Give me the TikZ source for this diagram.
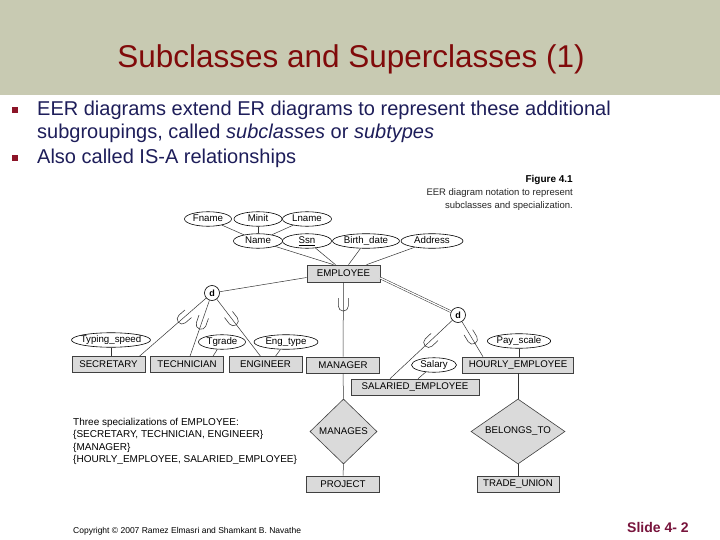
\documentclass[tikz,border=0pt]{standalone}
\usepackage{fontspec}
\setmainfont{Liberation Sans}
\usetikzlibrary{shapes.geometric,decorations.markings,calc}
\definecolor{hdr}{RGB}{200,202,178}
\definecolor{ttl}{RGB}{128,10,10}
\definecolor{txt}{RGB}{30,30,90}
\definecolor{bul}{RGB}{140,20,40}
\definecolor{entfill}{RGB}{218,218,218}
\definecolor{slidec}{RGB}{120,20,60}
\begin{document}
\begin{tikzpicture}[x=1pt,y=-1pt,
 lbl/.style={font=\fontsize{9.7}{10}\selectfont},
 ent/.style={rectangle,draw=black!75,line width=0.6pt,fill=entfill,minimum width=73pt,minimum height=16pt,inner sep=0pt,lbl},
 attr/.style={ellipse,draw=black,line width=0.6pt,fill=white,minimum height=14.5pt,inner sep=0pt,text height=7pt,text depth=2pt,lbl},
 rel/.style={diamond,draw=black!75,line width=0.6pt,fill=entfill,inner sep=0pt,aspect=1.45,lbl},
 dnode/.style={circle,draw=black,line width=0.6pt,fill=white,minimum size=15pt,inner sep=0pt,font=\bfseries\fontsize{9}{10}\selectfont},
 conn/.style={draw=black!80,line width=0.5pt},
 subs/.style={postaction={decorate},decoration={markings,mark=at position #1 with {\draw[black!80,line width=0.55pt] (-8pt,5pt) -- (0pt,5pt) arc[start angle=90,end angle=-90,radius=5pt] -- (-8pt,-5pt);}}},
 btext/.style={anchor=base west,inner sep=0pt,text=txt,font=\fontsize{20}{24}\selectfont},
 small/.style={anchor=base west,inner sep=0pt,font=\fontsize{10}{12}\selectfont},
]
\useasboundingbox (0,0) rectangle (720,540);
\fill[white] (0,0) rectangle (720,540);
\fill[hdr] (0,0) rectangle (720,95);
\node[anchor=base,inner sep=0pt,text=ttl,font=\fontsize{31.5}{36}\selectfont] (title) at (351,68) {Subclasses and Superclasses (1)};

% bullets
\node[fill=bul,minimum size=6pt,inner sep=0pt] (b1) at (15,110) {};
\node[fill=bul,minimum size=6pt,inner sep=0pt] (b2) at (15,158) {};
\node[btext] (t1) at (37,116) {EER diagrams extend ER diagrams to represent these additional};
\node[btext] (t2) at (37,139) {subgroupings, called \textit{subclasses} or \textit{subtypes}};
\node[btext] (t3) at (37,164) {Also called IS-A relationships};

% caption
\node[anchor=base east,inner sep=0pt,font=\bfseries\fontsize{10}{12}\selectfont] (fig) at (573,183) {Figure 4.1};
\node[anchor=base east,inner sep=0pt,text=black!85,font=\fontsize{9.5}{11}\selectfont] (cap1) at (573,195.5) {EER diagram notation to represent};
\node[anchor=base east,inner sep=0pt,text=black!85,font=\fontsize{9.5}{11}\selectfont] (cap2) at (573,208) {subclasses and specialization.};

% attributes
\node[attr,minimum width=47pt] (fname) at (208,219) {Fname};
\node[attr,minimum width=48pt] (minit) at (258,219) {Minit};
\node[attr,minimum width=49pt] (lname) at (307,219) {Lname};
\node[attr,minimum width=49pt] (name) at (258,241) {Name};
\node[attr,minimum width=49pt] (ssn) at (307,241) {\underline{Ssn}};
\node[attr,minimum width=67pt] (bdate) at (366,241) {Birth\_date};
\node[attr,minimum width=62pt] (addr) at (432,241) {Address};

\node[ent,minimum height=17pt] (emp) at (343.5,273.5) {EMPLOYEE};

\node[dnode] (d1) at (212,293) {d};
\node[dnode] (d2) at (458,315) {d};

\node[attr,minimum width=79pt,inner xsep=-2.5pt] (typ) at (111,340) {Typing\_speed};
\node[attr,minimum width=47pt] (tgrade) at (222,342) {Tgrade};
\node[attr,minimum width=64pt] (engt) at (286,342) {Eng\_type};
\node[attr,minimum width=61pt] (pay) at (519,341) {Pay\_scale};
\node[attr,minimum width=45pt] (salary) at (434,365) {Salary};

\node[ent] (sec) at (108.5,364.5) {SECRETARY};
\node[ent] (tech) at (187,364.5) {TECHNICIAN};
\node[ent] (eng) at (265.5,364.5) {ENGINEER};
\node[ent] (mgr) at (343,365) {MANAGER};
\node[ent,minimum width=111pt] (hourly) at (518,365) {HOURLY\_EMPLOYEE};
\node[ent,minimum width=128pt] (sal) at (415,387) {SALARIED\_EMPLOYEE};

\node[rel,minimum width=67pt,minimum height=65pt] (manages) at (343.5,431.5) {MANAGES};
\node[rel,minimum width=94pt,minimum height=65pt] (belongs) at (518,431.5) {BELONGS\_TO};
\node[ent] (project) at (343,484) {PROJECT};
\node[ent,minimum width=82pt] (trade) at (518,484) {TRADE\_UNION};

% connectors: name composite
\draw[conn] (fname) -- (name);
\draw[conn] (minit) -- (name);
\draw[conn] (lname) -- (name);
\draw[conn] (name) -- ([xshift=-10pt]emp.north);
\draw[conn] (ssn) -- ([xshift=-8pt]emp.north);
\draw[conn] (bdate) -- ([xshift=5pt]emp.north);
\draw[conn] (addr) -- ([xshift=23pt]emp.north);

% specializations
\draw[conn] ([yshift=-4pt]emp.west) -- (d1);
\draw[conn,double,double distance=1.3pt] ([yshift=-4.5pt]emp.east) -- (d2);
\draw[conn,subs=0.32] (emp.south) -- (mgr.north);
\draw[conn,subs=0.36] (d1) -- ([xshift=31pt]sec.north);
\draw[conn,subs=0.43] (d1) -- ([xshift=3pt]tech.north);
\draw[conn,subs=0.38] (d1) -- ([xshift=-5pt]eng.north);
\draw[conn,subs=0.38] (d2) -- ([xshift=-25pt]sal.north);
\draw[conn,subs=0.5] (d2) -- ([xshift=-35pt]hourly.north);

% local attributes
\draw[conn] (typ.south) -- (typ.south |- sec.north);
\draw[conn] (tgrade) -- ([xshift=26pt]tech.north);
\draw[conn] (engt) -- ([xshift=10pt]eng.north);
\draw[conn] (pay.south) -- (pay.south |- hourly.north);
\draw[conn] (salary) -- ([xshift=3pt]sal.north);

% relationships
\draw[conn] (mgr.south) -- (manages.north);
\draw[conn] (manages.south) -- (project.north);
\draw[conn] (hourly.south) -- (belongs.north);
\draw[conn] (belongs.south) -- (trade.north);

% note
\node[small] (n1) at (73,425) {Three specializations of EMPLOYEE:};
\node[small] (n2) at (73,437.5) {\{SECRETARY, TECHNICIAN, ENGINEER\}};
\node[small] (n3) at (73,450) {\{MANAGER\}};
\node[small] (n4) at (73,462.5) {\{HOURLY\_EMPLOYEE, SALARIED\_EMPLOYEE\}};

% footer
\node[anchor=base west,inner sep=0pt,font=\fontsize{8.5}{10}\selectfont] (copy) at (73,533) {Copyright © 2007 Ramez Elmasri and Shamkant B. Navathe};
\node[anchor=base west,inner sep=0pt,text=slidec,font=\bfseries\fontsize{14}{16}\selectfont] (slide) at (627,532) {Slide 4- 2};
\end{tikzpicture}
\end{document}
